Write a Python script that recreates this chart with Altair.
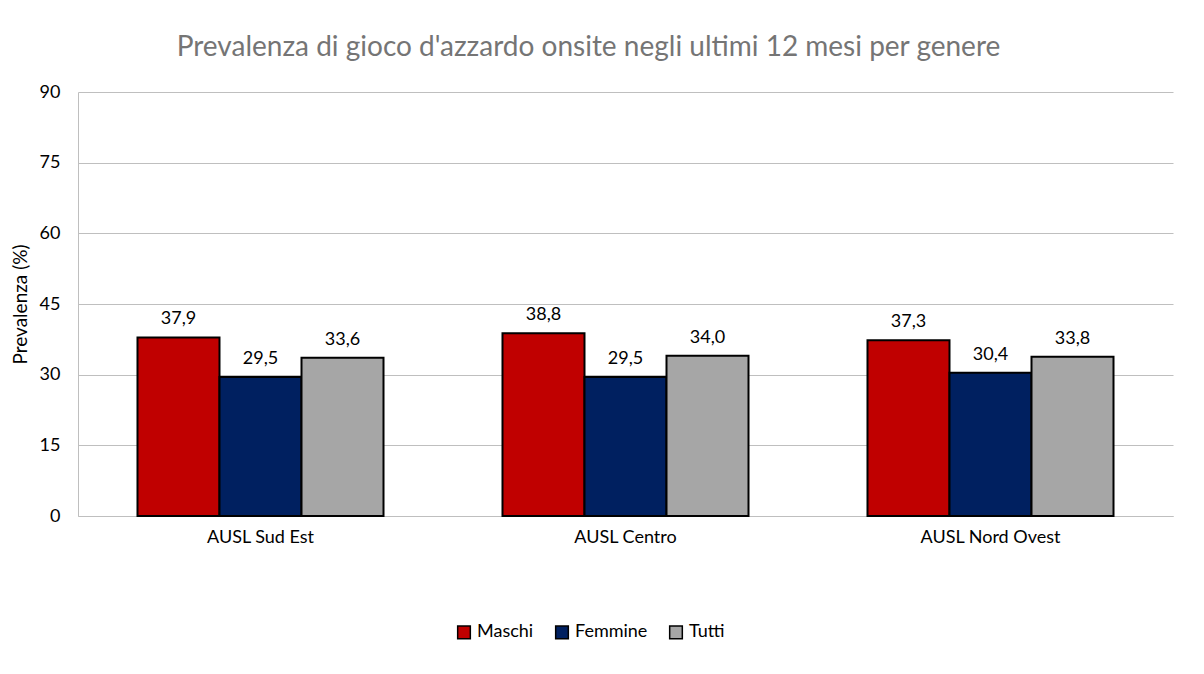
import altair as alt
import pandas as pd

areas = ["AUSL Sud Est", "AUSL Centro", "AUSL Nord Ovest"]
groups = ["Maschi", "Femmine", "Tutti"]
maschi = [37.9, 38.8, 37.3]
femmine = [29.5, 29.5, 30.4]
tutti = [33.6, 34.0, 33.8]
colors = ["#C00000", "#002060", "#A6A6A6"]
y_ticks = [0, 15, 30, 45, 60, 75, 90]

rows = []
for i, a in enumerate(areas):
    for g, vals in zip(groups, [maschi, femmine, tutti]):
        v = vals[i]
        rows.append({"area": a, "gruppo": g, "valore": v,
                     "etichetta": f"{v:.1f}".replace(".", ",")})
df = pd.DataFrame(rows)

FONT = "Lato"

x = alt.X("area:N", sort=areas, title=None,
          scale=alt.Scale(paddingInner=0.326, paddingOuter=0.163),
          axis=alt.Axis(labelAngle=0, labelFontSize=18, labelColor="#000000",
                        labelFont=FONT, ticks=False, domainColor="#BFBFBF",
                        labelPadding=12))
y = alt.Y("valore:Q", title="Prevalenza (%)",
          scale=alt.Scale(domain=[0, 90], nice=False),
          axis=alt.Axis(values=y_ticks, labelFontSize=18, labelColor="#000000",
                        labelFont=FONT, ticks=False, domain=True, domainColor="#BFBFBF",
                        gridColor="#BFBFBF", titleFontSize=19, titleFont=FONT,
                        titleFontWeight="normal", titleColor="#000000",
                        labelPadding=18, titlePadding=9))

base = alt.Chart(df).encode(
    x=x,
    xOffset=alt.XOffset("gruppo:N", sort=groups, scale=alt.Scale(paddingInner=0, paddingOuter=0)),
)

bars = base.mark_bar(stroke="#000000", strokeWidth=2).encode(
    y=y,
    color=alt.Color("gruppo:N", sort=groups,
                    scale=alt.Scale(domain=groups, range=colors),
                    legend=alt.Legend(title=None, orient="none", direction="horizontal",
                                      legendX=377, legendY=531,
                                      symbolType="square", symbolSize=160,
                                      symbolStrokeColor="#000000", symbolStrokeWidth=1.5,
                                      symbolOpacity=1,
                                      labelFontSize=18, labelFont=FONT, labelColor="#000000",
                                      columnPadding=18, labelOffset=4)),
)

labels = base.mark_text(baseline="bottom", dy=-9, fontSize=18, font=FONT, color="#000000").encode(
    y="valore:Q",
    text="etichetta:N",
)

chart = (bars + labels).properties(
    width=1095, height=424,
    padding={"left": 70, "top": 84, "right": 23, "bottom": 150},
    autosize=alt.AutoSizeParams(type="none"),
    title=alt.TitleParams("Prevalenza di gioco d'azzardo onsite negli ultimi 12 mesi per genere",
                          fontSize=28, font=FONT, fontWeight="normal", color="#757575",
                          anchor="middle", dx=-37, offset=21),
).configure_view(stroke=None).configure_axisY(grid=True).configure_axisX(grid=False)

chart.save("out.html", embed_options={"renderer": "svg", "actions": False})
